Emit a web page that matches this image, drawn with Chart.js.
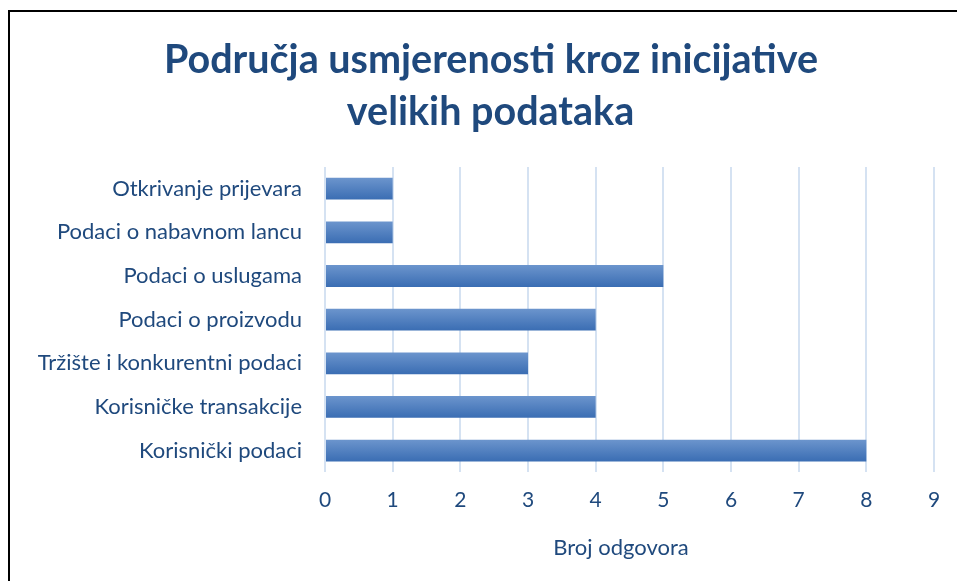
<!DOCTYPE html>
<html lang="hr">
<head>
    <meta charset="UTF-8">
    <title>Područja usmjerenosti</title>
    <script src="https://cdn.jsdelivr.net/npm/chart.js"></script>
    <style>
        body { margin: 0; background: #fff; }
        #frame {
            position: absolute; left: 8px; top: 10px; width: 1000px; height: 700px;
            border-left: 2px solid #000; border-top: 2px solid #000;
        }
        #wrap { position: absolute; left: 0; top: 0; width: 957px; height: 581px; }
    </style>
</head>
<body>
    <div id="frame"></div>
    <div id="wrap"><canvas id="chart"></canvas></div>

    <script>
        // podaci
        const kategorije = [
            'Otkrivanje prijevara',
            'Podaci o nabavnom lancu',
            'Podaci o uslugama',
            'Podaci o proizvodu',
            'Tržište i konkurentni podaci',
            'Korisničke transakcije',
            'Korisnički podaci'
        ];
        const brojOdgovora = [1, 1, 5, 4, 3, 4, 8];
        const naslov = ['Područja usmjerenosti kroz inicijative', 'velikih podataka'];

        const tekstBoja = '#1f497d';
        // razmaci ispred naslova da bude malo desno kao u originalu
        const pomak = '\u00a0'.repeat(5);

        // gradijent za svaki stupac
        function boja(ctx) {
            const chart = ctx.chart;
            const y = chart.scales.y;
            if (!chart.chartArea || !y || ctx.dataIndex === undefined) return '#4f81bd';
            const c = y.getPixelForValue(ctx.dataIndex);
            const h = 11;
            const g = chart.ctx.createLinearGradient(0, c - h, 0, c + h);
            g.addColorStop(0, '#6c95cd');
            g.addColorStop(1, '#3a6db3');
            return g;
        }

        new Chart(document.getElementById('chart'), {
            type: 'bar',
            data: {
                labels: kategorije,
                datasets: [{
                    data: brojOdgovora,
                    backgroundColor: boja,
                    borderWidth: 0,
                    categoryPercentage: 1,
                    barPercentage: 0.5
                }]
            },
            options: {
                indexAxis: 'y',
                responsive: true,
                maintainAspectRatio: false,
                animation: false,
                layout: { padding: { left: 0, right: 23, top: 0, bottom: 20 } },
                plugins: {
                    legend: { display: false },
                    tooltip: { enabled: false },
                    title: {
                        display: true,
                        text: naslov.map(t => pomak + t),
                        color: tekstBoja,
                        font: { family: 'Lato', size: 39.5, weight: 'bold', lineHeight: 1.315 },
                        padding: { top: 34, bottom: 29 }
                    }
                },
                scales: {
                    x: {
                        min: 0,
                        max: 9,
                        ticks: { stepSize: 1, color: tekstBoja, font: { family: 'Lato', size: 21 }, padding: 15 },
                        grid: { color: '#d5e2f2', lineWidth: 2, drawTicks: false },
                        border: { display: false },
                        title: {
                            display: true,
                            text: 'Broj odgovora\u00a0\u00a0\u00a0',
                            color: tekstBoja,
                            font: { family: 'Lato', size: 22 },
                            padding: { top: 7, bottom: 0 }
                        }
                    },
                    y: {
                        ticks: { color: tekstBoja, font: { family: 'Lato', size: 22 }, padding: 15 },
                        grid: { display: false },
                        border: { display: false },
                        afterFit: (s) => { s.width = 325; }
                    }
                }
            }
        });
    </script>
</body>
</html>
